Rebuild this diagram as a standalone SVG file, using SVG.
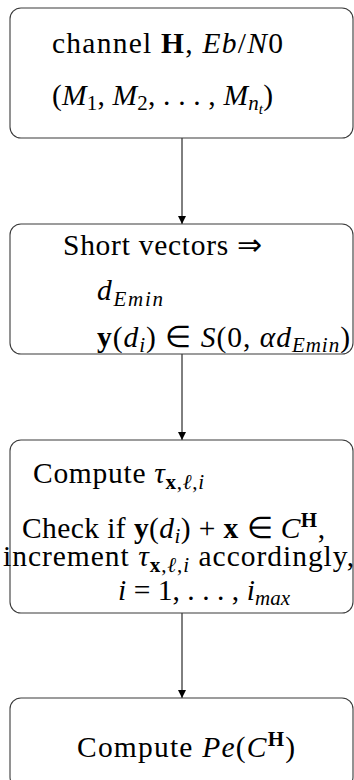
<svg xmlns="http://www.w3.org/2000/svg" width="354" height="780" viewBox="0 0 354 780">
<defs>
<marker id="ah" viewBox="0 0 10 10" refX="10" refY="5" markerWidth="8" markerHeight="11" markerUnits="userSpaceOnUse" orient="auto">
<path d="M0,0 L10,5 L0,10 z" fill="#000"/>
</marker>
</defs>
<style>
.box{fill:#fff;stroke:#3a3a3a;stroke-width:1.1}
.t{font-family:"Liberation Serif","Times New Roman",serif;font-size:29.5px;fill:#000}
.i{font-style:italic}
.b{font-weight:bold}
.s{font-size:21px}
.ss{font-size:15px}
.conn{stroke:#000;stroke-width:1;fill:none}
</style>
<rect width="354" height="780" fill="#fff"/>
<g id="connectors">
<line class="conn" x1="182" y1="138" x2="182" y2="224" marker-end="url(#ah)"/>
<line class="conn" x1="182" y1="354" x2="182" y2="440" marker-end="url(#ah)"/>
<line class="conn" x1="182" y1="613" x2="182" y2="698" marker-end="url(#ah)"/>
</g>
<g id="n1">
<rect class="box" x="10" y="8" width="343" height="130" rx="11"/>
<text class="t" x="52" y="53" textLength="231" lengthAdjust="spacing">channel <tspan class="b">H</tspan>, <tspan class="i">Eb</tspan>/<tspan class="i">N</tspan>0</text>
<text class="t" x="52" y="105" textLength="221" lengthAdjust="spacing">(<tspan class="i">M</tspan><tspan class="s" dy="5">1</tspan><tspan dy="-5">, </tspan><tspan class="i">M</tspan><tspan class="s" dy="5">2</tspan><tspan dy="-5">, . . . , </tspan><tspan class="i">M</tspan><tspan class="s i" dy="5">n</tspan><tspan class="ss i" dy="4">t</tspan><tspan dy="-9">)</tspan></text>
</g>
<g id="n2">
<rect class="box" x="10" y="224" width="343" height="130" rx="11"/>
<text class="t" x="63" y="255" textLength="199" lengthAdjust="spacing">Short vectors ⇒</text>
<text class="t" x="97" y="300" textLength="66" lengthAdjust="spacing"><tspan class="i">d</tspan><tspan class="s i" dy="6">Emin</tspan></text>
<text class="t" x="97" y="347" textLength="253" lengthAdjust="spacing"><tspan class="b">y</tspan>(<tspan class="i">d</tspan><tspan class="s i" dy="5">i</tspan><tspan dy="-5">) ∈ </tspan><tspan class="i">S</tspan>(0, <tspan class="i">αd</tspan><tspan class="s i" dy="5">Emin</tspan><tspan dy="-5">)</tspan></text>
</g>
<g id="n3">
<rect class="box" x="10" y="440" width="343" height="173" rx="11"/>
<text class="t" x="33" y="483" textLength="171" lengthAdjust="spacing">Compute <tspan class="i">τ</tspan><tspan class="s" dy="6"><tspan class="b">x</tspan>,<tspan class="i">ℓ</tspan>,<tspan class="i">i</tspan></tspan></text>
<text class="t" x="22" y="538" textLength="303" lengthAdjust="spacing">Check if <tspan class="b">y</tspan>(<tspan class="i">d</tspan><tspan class="s i" dy="5">i</tspan><tspan dy="-5">) + </tspan><tspan class="b">x</tspan> ∈ <tspan class="i">C</tspan><tspan class="s b" dy="-11">H</tspan><tspan dy="11">,</tspan></text>
<text class="t" x="3" y="566" textLength="351" lengthAdjust="spacing">increment <tspan class="i">τ</tspan><tspan class="s" dy="6"><tspan class="b">x</tspan>,<tspan class="i">ℓ</tspan>,<tspan class="i">i</tspan></tspan><tspan dy="-6"> accordingly,</tspan></text>
<text class="t" x="118" y="600" textLength="172" lengthAdjust="spacing"><tspan class="i">i</tspan> = 1, . . . , <tspan class="i">i</tspan><tspan class="s i" dy="5">max</tspan></text>
</g>
<g id="n4">
<rect class="box" x="10" y="698" width="343" height="90" rx="11"/>
<text class="t" x="77" y="757" textLength="218" lengthAdjust="spacing">Compute <tspan class="i">Pe</tspan>(<tspan class="i">C</tspan><tspan class="s b" dy="-11">H</tspan><tspan dy="11">)</tspan></text>
</g>
</svg>
